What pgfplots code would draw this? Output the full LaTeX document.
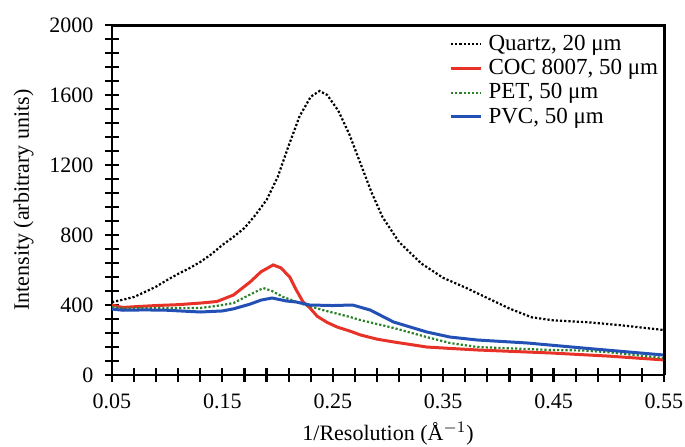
\documentclass[border=0pt]{standalone}
\usepackage{fontspec}
\setmainfont{Liberation Serif}
\usepackage{pgfplots}
\pgfplotsset{compat=1.18}

\definecolor{cocred}{RGB}{232,50,40}
\definecolor{petgreen}{RGB}{40,130,40}
\definecolor{pvcblue}{RGB}{35,80,180}

\begin{document}
\begin{tikzpicture}
\begin{axis}[
    scale only axis,
    width=276pt, height=175pt,
    xmin=0.05, xmax=0.55,
    ymin=0, ymax=2000,
    axis x line*=bottom, axis y line*=left,
    xtick={0.05,0.15,0.25,0.35,0.45,0.55},
    ytick={0,400,800,1200,1600,2000},
    xticklabels={0.05,0.15,0.25,0.35,0.45,0.55},
    minor xtick={0.07,0.09,0.11,0.13,0.17,0.19,0.21,0.23,0.27,0.29,0.31,0.33,0.37,0.39,0.41,0.43,0.47,0.49,0.51,0.53},
    minor ytick={80,160,240,320,480,560,640,720,880,960,1040,1120,1280,1360,1440,1520,1680,1760,1840,1920},
    tick align=center,
    major tick length=7pt,
    minor tick length=7pt,
    tick style={black, line width=1.1pt},
    axis line style={black, line width=1.2pt},
    /pgf/number format/assume math mode=true,
    /pgf/number format/1000 sep={},
    ticklabel style={font=\fontsize{11}{13}\selectfont},
    xticklabel style={yshift=-2.5pt},
    yticklabel style={xshift=-2.3pt},
    xlabel={1/Resolution (Å$^{-1}$)},
    ylabel={Intensity (arbitrary units)},
    label style={font=\fontsize{11}{13}\selectfont},
    xlabel style={at={(axis description cs:0.5,0)}, anchor=base, yshift=-32.5pt},
    ylabel style={at={(axis description cs:-0.16,0.5)}, anchor=center, rotate=0},
    legend style={draw=none, fill=none, at={(rel axis cs:0.6,0.99)}, anchor=north west,
        font=\fontsize{11.5}{13.5}\selectfont, nodes={inner ysep=1pt, inner xsep=3pt},
        row sep=1pt},
    legend cell align=left,
    legend image code/.code={\draw[#1] (0pt,0pt) -- (15pt,0pt);},
]
\addplot[black, densely dotted, line width=1.1pt] coordinates {
    (0.05,417) (0.06,430) (0.07,446) (0.08,475) (0.09,505) (0.10,543)
    (0.11,578) (0.12,610) (0.13,646) (0.14,690) (0.15,743) (0.16,789)
    (0.17,840) (0.18,915) (0.19,1000) (0.20,1130) (0.21,1310) (0.22,1480)
    (0.23,1590) (0.238,1623) (0.245,1600) (0.255,1510) (0.265,1375)
    (0.275,1210) (0.285,1045) (0.295,903) (0.31,760) (0.33,638) (0.35,555)
    (0.37,500) (0.39,440) (0.41,380) (0.43,330) (0.45,312) (0.48,302)
    (0.51,285) (0.55,257)
};
\addlegendentry{Quartz, 20 μm}
\addplot[cocred, line width=1.5pt] coordinates {
    (0.05,400) (0.055,392) (0.06,386) (0.07,390) (0.09,397) (0.11,402)
    (0.13,411) (0.145,420) (0.16,457) (0.175,531) (0.185,590) (0.196,629)
    (0.203,612) (0.211,560) (0.217,485) (0.223,418) (0.229,385) (0.236,335)
    (0.245,300) (0.254,274) (0.266,250) (0.275,229) (0.29,205) (0.305,189)
    (0.335,160) (0.356,152) (0.381,143) (0.447,126) (0.50,108) (0.55,86)
};
\addlegendentry{COC 8007, 50 μm}
\addplot[petgreen, densely dotted, line width=1.1pt] coordinates {
    (0.05,389) (0.06,380) (0.08,382) (0.10,383) (0.13,383) (0.145,395)
    (0.16,411) (0.172,450) (0.187,497) (0.195,480) (0.205,446) (0.22,411)
    (0.241,371) (0.266,331) (0.275,314) (0.305,269) (0.335,217) (0.356,183)
    (0.381,160) (0.447,143) (0.477,140) (0.50,130) (0.55,97)
};
\addlegendentry{PET, 50 μm}
\addplot[pvcblue, line width=1.5pt] coordinates {
    (0.05,377) (0.06,370) (0.08,372) (0.10,370) (0.13,360) (0.15,366)
    (0.16,378) (0.175,405) (0.185,428) (0.195,440) (0.208,423) (0.217,417)
    (0.229,400) (0.25,397) (0.268,400) (0.284,371) (0.305,303) (0.335,246)
    (0.356,217) (0.381,200) (0.426,183) (0.477,154) (0.55,114)
};
\addlegendentry{PVC, 50 μm}
\end{axis}
% top and right edges of the plot area
\draw[black, line width=1.5pt] (0pt,175pt) -- (276pt,175pt) -- (276pt,0pt);
\pgfresetboundingbox
\path[use as bounding box] (-56pt,-35.5pt) rectangle (286.5pt,187.5pt);
\end{tikzpicture}
\end{document}
